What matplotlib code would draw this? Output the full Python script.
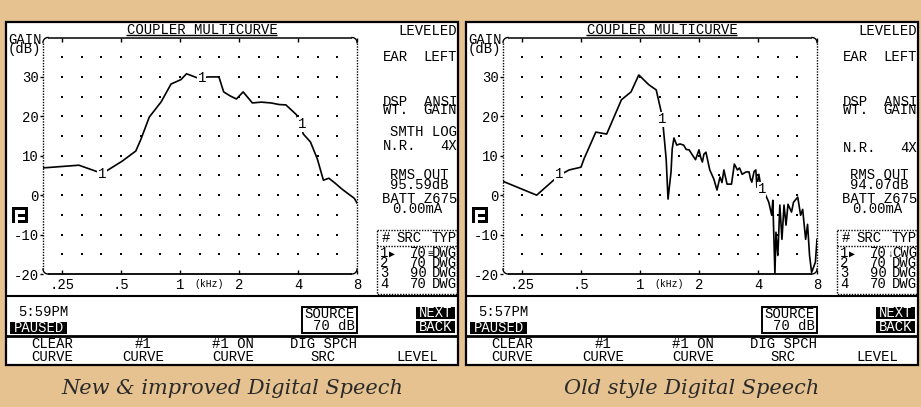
import numpy as np
import matplotlib
matplotlib.use("Agg")
import matplotlib.pyplot as plt
from matplotlib.patches import Rectangle
from matplotlib.ticker import NullLocator

plt.rcParams["font.family"] = ["Liberation Mono", "DejaVu Sans Mono", "DejaVu Sans"]

# ---- curves (kHz, dB) ----
new_khz = [0.198, 0.305, 0.396, 0.42, 0.506, 0.595, 0.632, 0.697, 0.802, 0.900,
           1.01, 1.08, 1.22, 1.41, 1.58, 1.67, 1.80, 1.94, 2.10, 2.34, 2.60,
           2.91, 3.20, 3.47, 3.93, 4.26, 4.63, 5.02, 5.39, 5.75, 6.20, 6.72,
           7.75, 8.0]
new_gain = [6.9, 7.6, 5.6, 6.1, 8.6, 11.2, 14.2, 19.8, 23.7, 28.2,
            29.3, 30.8, 29.8, 30.0, 30.0, 26.2, 25.2, 24.4, 26.2, 23.4, 23.6,
            23.4, 23.0, 22.9, 20.4, 15.5, 13.5, 9.2, 3.8, 4.3, 3.0, 1.5,
            -0.8, -2.0]
new_marks_khz = [0.40, 1.29, 4.18]
new_marks_gain = [5.4, 29.6, 18.0]

old_khz = [0.198, 0.297, 0.386, 0.435, 0.50, 0.518, 0.595, 0.676, 0.804, 0.900,
           0.986, 1.11, 1.21, 1.29, 1.31, 1.36, 1.39, 1.44, 1.46, 1.49, 1.54,
           1.60, 1.67, 1.72, 1.78, 1.85, 1.92, 2.00, 2.04, 2.08, 2.12, 2.17,
           2.27, 2.38, 2.47, 2.56, 2.62, 2.68, 2.78, 2.93, 3.03, 3.14, 3.22,
           3.32, 3.48, 3.60, 3.66, 3.72, 3.82, 3.90, 3.95, 4.04,
           4.18, 4.38, 4.54, 4.70, 4.76, 4.88, 4.94, 5.05, 5.17, 5.30, 5.43,
           5.56, 5.69, 5.93, 6.07, 6.38, 6.60, 6.76, 7.00, 7.16, 7.33, 7.51,
           7.85, 8.0]
old_gain = [3.6, 0.0, 5.0, 6.4, 7.1, 9.2, 16.0, 15.5, 24.2, 26.2,
            30.5, 28.0, 26.7, 20.6, 18.0, 9.2, -1.0, 5.9, 11.7, 14.5, 12.7,
            13.0, 12.7, 11.6, 11.5, 10.2, 9.0, 11.5, 9.6, 8.4, 10.4, 10.9,
            6.4, 4.1, 1.3, 4.6, 3.2, 6.4, 2.8, 2.8, 7.9, 6.4, 6.9,
            5.3, 5.9, 5.9, 4.2, 3.3, 6.0, 6.4, 2.0, 5.3,
            0.8, 0.0, -1.8, -5.1, -1.3, -20.0, -9.4, -15.3, -2.5, -11.2, -2.5,
            -7.6, -2.3, -4.3, -1.8, -0.5, -5.1, -3.6, -11.2, -7.4, -15.3, -19.6,
            -17.0, -11.2]
old_marks_khz = [0.386, 1.30, 4.18]
old_marks_gain = [5.3, 19.3, 1.5]

freq_ticks = [0.25, 0.5, 1, 2, 4, 8]
freq_ticklabels = [".25", ".5", "1", "2", "4", "8"]
gain_ticks = [-20, -10, 0, 10, 20, 30]
grid_khz = [0.25, 0.315, 0.397, 0.5, 0.63, 0.794, 1.0, 1.26, 1.59, 2.0,
            2.52, 3.17, 4.0, 5.04, 6.35]
grid_gain = [-15, -10, -5, 0, 5, 10, 15, 20, 25, 30, 35]

captions = ["New & improved Digital Speech", "Old style Digital Speech"]
rms_out = ["95.59dB", "94.07dB"]
clock = ["5:59PM", "5:57PM"]
row1 = [("≡", "DWG"), ("↓", "CWG")]
src_rows = [("2", "70"), ("3", "90"), ("4", "70")]
softkeys = [("CLEAR", "CURVE"), ("#1", "CURVE"), ("#1 ON", "CURVE"),
            ("DIG SPCH", "SRC"), ("", "LEVEL")]
softkey_x = [52, 143, 233, 323, 417]

W, H = 921, 407
BG = "#E5C290"

fig = plt.figure(figsize=(W / 100, H / 100), dpi=100, facecolor=BG)
ov = fig.add_axes([0, 0, 1, 1])
ov.set_xlim(0, W)
ov.set_ylim(H, 0)
ov.axis("off")
ov.set_zorder(0)


def txt(x, y, s, ha="left", size=10, color="black", **kw):
    # y is the vertical centre of the capitals, in screen pixels
    ov.text(x, y + 4, s, ha=ha, va="baseline", fontsize=size, color=color, **kw)


def hline(x0, x1, y, **kw):
    ov.plot([x0, x1], [y, y], color="black", solid_capstyle="butt", **kw)


def vline(x, y0, y1, **kw):
    ov.plot([x, x], [y0, y1], color="black", solid_capstyle="butt", **kw)


def corner(cx, cy, r, t0, t1, **kw):
    t = np.radians(np.linspace(t0, t1, 12))
    ov.plot(cx + r * np.cos(t), cy + r * np.sin(t), color="black", **kw)


def draw_panel(i, khz, gain, mk_khz, mk_gain):
    dx = 460 * i
    ov.add_patch(Rectangle((6 + dx, 22), 452, 343, fc="white", ec="black", lw=1.6))

    # header
    txt(127 + dx, 30, "COUPLER MULTICURVE")
    hline(126 + dx, 277 + dx, 35, lw=1)
    txt(457 + dx, 31, "LEVELED", ha="right")
    txt(8 + dx, 40, "GAIN")
    txt(8 + dx, 49, "(dB)")

    # plot frame: solid top/bottom, dotted sides, rounded corners
    x0, x1, y0, y1, r = 43 + dx, 357 + dx, 37.5, 274, 5
    hline(x0 + r, x1 - r, y0, lw=1.1)
    hline(x0 + r, x1 - r, y1, lw=1.3)
    vline(x0, y0 + r, y1 - r, lw=1, ls=(0, (1, 1)))
    vline(x1, y0 + r, y1 - r, lw=1, ls=(0, (1, 1)))
    corner(x0 + r, y0 + r, r, 180, 270, lw=1)
    corner(x1 - r, y0 + r, r, 270, 360, lw=1)
    corner(x1 - r, y1 - r, r, 0, 90, lw=1)
    corner(x0 + r, y1 - r, r, 90, 180, lw=1)
    txt(209 + dx, 283, "(kHz)", ha="center", size=7)

    # side status text
    txt(383 + dx, 57, "EAR")
    txt(457 + dx, 57, "LEFT", ha="right")
    txt(383 + dx, 102, "DSP")
    txt(457 + dx, 102, "ANSI", ha="right")
    txt(383 + dx, 110.5, "WT.")
    txt(457 + dx, 110.5, "GAIN", ha="right")
    if i == 0:
        txt(457 + dx, 132, "SMTH LOG", ha="right")
    nr_y = 146 if i == 0 else 148
    txt(383 + dx, nr_y, "N.R.")
    txt(457 + dx, nr_y, "4X", ha="right")
    txt(449 + dx, 175, "RMS OUT", ha="right")
    txt(449 + dx, 185, rms_out[i], ha="right")
    txt(457 + dx, 199, "BATT Z675", ha="right")
    txt(442 + dx, 209, "0.00mA", ha="right")

    # source table
    ov.add_patch(Rectangle((377 + dx, 230), 80, 64, fill=False, ec="black",
                           lw=1, ls=(0, (1, 1))))
    hline(377 + dx, 457 + dx, 245.5, lw=1, ls=(0, (1, 1)))
    txt(382 + dx, 238, "#")
    txt(409 + dx, 238, "SRC", ha="center")
    txt(457 + dx, 238, "TYP", ha="right")
    sym, typ = row1[i]
    txt(380 + dx, 253, "1")
    txt(388.5 + dx, 253, "▶", size=7)
    txt(427 + dx, 253, "70", ha="right")
    txt(430 + dx, 253, sym, ha="center", size=7)
    txt(457 + dx, 253, typ, ha="right")
    for k, (n, src) in enumerate(src_rows):
        yy = 263 + 10.3 * k
        txt(380 + dx, yy, n)
        txt(427 + dx, yy, src, ha="right")
        txt(457 + dx, yy, "DWG", ha="right")

    # flag icon
    for (rx, ry, rw, rh) in [(12, 207, 3, 16), (12, 207, 16, 3), (25, 207, 3, 16),
                             (18, 214, 10, 2.5), (18, 220, 10, 3)]:
        ov.add_patch(Rectangle((rx + dx, ry), rw, rh, fc="black", ec="none"))

    # status bar
    hline(6 + dx, 458 + dx, 296, lw=1.5)
    hline(6 + dx, 458 + dx, 336, lw=2)
    txt(18 + dx, 312.5, clock[i])
    ov.add_patch(Rectangle((10 + dx, 322), 57, 11.5, fc="black", ec="none"))
    txt(38.5 + dx, 327.5, "PAUSED", ha="center", color="white")
    ov.add_patch(Rectangle((302 + dx, 307), 55, 26, fill=False, ec="black", lw=1.4))
    txt(330 + dx, 313.5, "SOURCE", ha="center")
    txt(334 + dx, 325.5, "70 dB", ha="center")
    for yy, word in [(307, "NEXT"), (321, "BACK")]:
        ov.add_patch(Rectangle((416 + dx, yy), 39, 12, fc="black", ec="none"))
        txt(435.5 + dx, yy + 6, word, ha="center", color="white")
    for (top, bot), kx in zip(softkeys, softkey_x):
        if top:
            txt(kx + dx, 344, top, ha="center")
        txt(kx + dx, 357, bot, ha="center")

    ov.text(232 + dx, 388, captions[i], ha="center", va="center", fontsize=15,
            family="DejaVu Serif", style="italic", color="#2a2a2a")

    # the measured curve itself
    ax = fig.add_axes([(43 + dx) / W, 1 - 274 / H, 314 / W, 236.5 / H])
    ax.set_zorder(2)
    ax.set_facecolor("none")
    ax.set_xscale("log")
    ax.set_xlim(0.2, 8)
    ax.set_ylim(-20, 40)
    for s in ax.spines.values():
        s.set_visible(False)
    ax.set_xticks(freq_ticks)
    ax.set_xticklabels(freq_ticklabels)
    ax.xaxis.set_minor_locator(NullLocator())
    ax.set_yticks(gain_ticks)
    ax.set_yticklabels([str(v) for v in gain_ticks])
    ax.tick_params(axis="x", direction="in", length=3, width=1, top=True,
                   pad=3, labelsize=10)
    ax.tick_params(axis="y", direction="out", length=2, width=1, pad=1,
                   labelsize=10)
    gx, gy = np.meshgrid(grid_khz, grid_gain)
    ax.scatter(gx.ravel(), gy.ravel(), s=1.1, marker="s", color="black",
               linewidths=0)
    ax.plot(khz, gain, color="black", lw=1.2)
    for f, g in zip(mk_khz, mk_gain):
        ax.text(f, g, "1", ha="center", va="center", fontsize=10,
                bbox=dict(fc="white", ec="none", pad=0.4))
    return ax


draw_panel(0, new_khz, new_gain, new_marks_khz, new_marks_gain)
draw_panel(1, old_khz, old_gain, old_marks_khz, old_marks_gain)

fig.savefig("out.png", dpi=100, facecolor=BG)
